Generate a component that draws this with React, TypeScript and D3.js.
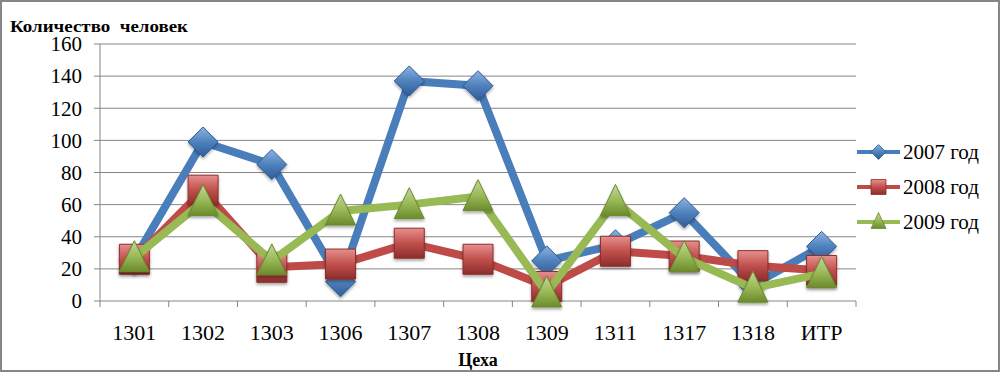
import React, { useRef, useEffect } from 'react';
import * as d3 from 'd3';

// категории (цеха)
const categories = ['1301', '1302', '1303', '1306', '1307', '1308', '1309', '1311', '1317', '1318', 'ИТР'];
const seriesNames = ['2007 год', '2008 год', '2009 год'];
const values2007 = [26, 99, 85, 12, 137, 134, 25, 35, 55, 10, 34];
const values2008 = [26, 69, 21, 23, 36, 26, 9, 31, 28, 22, 19];
const values2009 = [27, 62, 25, 56, 60, 65, 5, 62, 27, 8, 17];
const yTicks = [0, 20, 40, 60, 80, 100, 120, 140, 160];

const lineColors = ['#4a7ebb', '#be4b48', '#98b954'];
const markerColors = [
    { light: '#8db3e2', mid: '#4f81bd', dark: '#2c5d98' },
    { light: '#e6908e', mid: '#c0504d', dark: '#8c2d2a' },
    { light: '#c3d69b', mid: '#9bbb59', dark: '#6b8a2c' },
];
const markerShapes = ['diamond', 'square', 'triangle'];

const width = 1002;
const height = 373;
const margin = { left: 100, right: 146, top: 44, bottom: 72 };
const serif = 'Liberation Serif';

const markerPath = (shape, s) => {
    const h = s / 2;
    if (shape === 'diamond') return `M0,${-h}L${h},0L0,${h}L${-h},0Z`;
    if (shape === 'square') return `M${-h},${-h}H${h}V${h}H${-h}Z`;
    return `M0,${-h - 2}L${h},${h - 1}L${-h},${h - 1}Z`;
};

const App = () => {
    const svgRef = useRef();

    useEffect(() => {
        const svg = d3.select(svgRef.current);
        svg.selectAll('*').remove();

        const defs = svg.append('defs');
        markerColors.forEach((c, i) => {
            const gr = defs.append('linearGradient')
                .attr('id', `grad${i}`)
                .attr('x1', '0').attr('y1', '0').attr('x2', '0').attr('y2', '1');
            gr.append('stop').attr('offset', '0%').attr('stop-color', c.light);
            gr.append('stop').attr('offset', '50%').attr('stop-color', c.mid);
            gr.append('stop').attr('offset', '100%').attr('stop-color', c.dark);
        });
        const shadow = defs.append('filter').attr('id', 'shadow')
            .attr('x', '-50%').attr('y', '-50%').attr('width', '200%').attr('height', '200%');
        shadow.append('feDropShadow')
            .attr('dx', 0).attr('dy', 2).attr('stdDeviation', 1.5)
            .attr('flood-color', '#000').attr('flood-opacity', 0.35);

        // рамка
        svg.append('rect')
            .attr('x', 1).attr('y', 1)
            .attr('width', width - 4).attr('height', height - 3)
            .attr('fill', '#fff').attr('stroke', '#868686').attr('stroke-width', 2);

        const x = d3.scaleBand()
            .domain(categories)
            .range([margin.left, width - margin.right]);
        const y = d3.scaleLinear()
            .domain([0, 160])
            .range([height - margin.bottom, margin.top]);

        const g = svg.append('g');

        // сетка
        g.selectAll('.grid')
            .data(yTicks)
            .enter()
            .append('line')
            .attr('x1', margin.left - 6)
            .attr('x2', width - margin.right)
            .attr('y1', d => y(d))
            .attr('y2', d => y(d))
            .attr('stroke', '#868686')
            .attr('stroke-width', 1);

        // ось Y
        g.append('line')
            .attr('x1', margin.left).attr('x2', margin.left)
            .attr('y1', y(160)).attr('y2', y(0) + 6)
            .attr('stroke', '#868686');

        // деления оси X
        const bounds = categories.map(c => x(c) + x.bandwidth());
        g.selectAll('.xtick')
            .data(bounds)
            .enter()
            .append('line')
            .attr('x1', d => d).attr('x2', d => d)
            .attr('y1', y(0)).attr('y2', y(0) + 6)
            .attr('stroke', '#868686');

        g.selectAll('.ylabel')
            .data(yTicks)
            .enter()
            .append('text')
            .attr('x', margin.left - 18)
            .attr('y', d => y(d))
            .attr('dy', '0.35em')
            .attr('text-anchor', 'end')
            .style('font-family', serif)
            .style('font-size', '21px')
            .text(d => d);

        g.selectAll('.xlabel')
            .data(categories)
            .enter()
            .append('text')
            .attr('x', d => x(d) + x.bandwidth() / 2)
            .attr('y', y(0) + 39)
            .attr('text-anchor', 'middle')
            .style('font-family', serif)
            .style('font-size', '22px')
            .text(d => d);

        svg.append('text')
            .attr('x', 10).attr('y', 32)
            .attr('textLength', 178)
            .attr('lengthAdjust', 'spacingAndGlyphs')
            .style('font-family', serif)
            .style('font-size', '16px')
            .style('font-weight', 'bold')
            .style('white-space', 'pre')
            .text('Количество  человек');

        svg.append('text')
            .attr('x', (margin.left + width - margin.right) / 2)
            .attr('y', 366)
            .attr('text-anchor', 'middle')
            .style('font-family', serif)
            .style('font-size', '18px')
            .style('font-weight', 'bold')
            .text('Цеха');

        const allSeries = [values2007, values2008, values2009];
        const line = d3.line()
            .x((d, i) => x(categories[i]) + x.bandwidth() / 2)
            .y(d => y(d));

        allSeries.forEach((vals, si) => {
            const sg = g.append('g');
            sg.append('path')
                .datum(vals)
                .attr('d', line)
                .attr('fill', 'none')
                .attr('stroke', lineColors[si])
                .attr('stroke-width', 8)
                .attr('stroke-linejoin', 'round');
            sg.selectAll('.m')
                .data(vals)
                .enter()
                .append('path')
                .attr('transform', (d, i) => `translate(${x(categories[i]) + x.bandwidth() / 2},${y(d)})`)
                .attr('d', markerPath(markerShapes[si], 30))
                .attr('fill', `url(#grad${si})`)
                .attr('stroke', markerColors[si].dark)
                .attr('stroke-width', 1)
                .attr('filter', 'url(#shadow)');
        });

        // легенда
        const legend = svg.append('g');
        seriesNames.forEach((name, i) => {
            const ly = 152 + i * 35;
            legend.append('line')
                .attr('x1', 857).attr('x2', 900)
                .attr('y1', ly).attr('y2', ly)
                .attr('stroke', lineColors[i])
                .attr('stroke-width', 4);
            legend.append('path')
                .attr('transform', `translate(878.5,${ly})`)
                .attr('d', markerPath(markerShapes[i], 15))
                .attr('fill', `url(#grad${i})`)
                .attr('stroke', markerColors[i].dark)
                .attr('stroke-width', 0.8);
            legend.append('text')
                .attr('x', 903).attr('y', ly)
                .attr('dy', '0.35em')
                .style('font-family', serif)
                .style('font-size', '21px')
                .text(name);
        });
    }, []);

    return (
        <div style={{ position: 'fixed', left: 0, top: 0 }}>
            <svg ref={svgRef} width={width} height={height} style={{ display: 'block' }}></svg>
        </div>
    );
};

export default App;
